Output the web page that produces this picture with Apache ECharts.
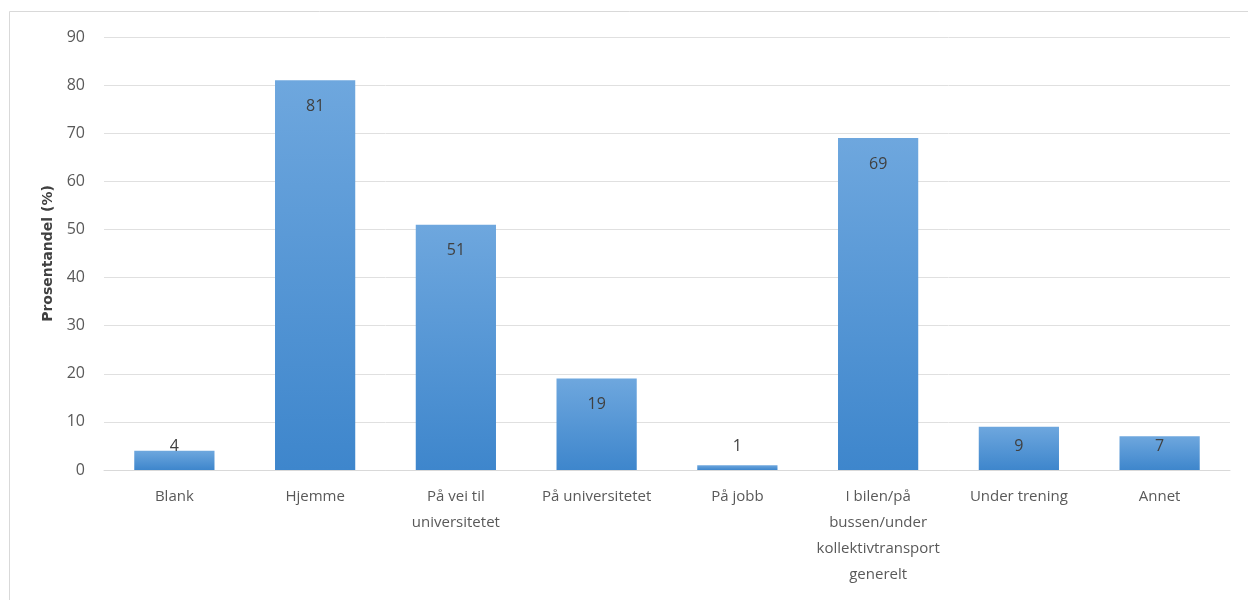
<!DOCTYPE html>
<html>
<head>
<meta charset="utf-8">
<script src="https://cdn.jsdelivr.net/npm/echarts@6/dist/echarts.min.js"></script>
<style>
  html, body { margin: 0; padding: 0; background: #fff; }
  #chart { width: 1248px; height: 600px; }
</style>
</head>
<body>
<div id="chart"></div>
<script>
var kategorier = ['Blank', 'Hjemme', 'På vei til\nuniversitetet', 'På universitetet', 'På jobb',
    'I bilen/på\nbussen/under\nkollektivtransport\ngenerelt', 'Under trening', 'Annet'];
var andeler = [4, 81, 51, 19, 1, 69, 9, 7];
var yTicks = [0, 10, 20, 30, 40, 50, 60, 70, 80, 90];

var chart = echarts.init(document.getElementById('chart'));

// Excel keeps the label inside the top, but never lower than a fixed spot above the axis
var pxPerUnit = 433 / 90;
var barData = andeler.map(function (v) {
    var d = Math.min(26, (v - 4.8) * pxPerUnit); // label centre below bar top
    if (d >= 26) return v;
    if (d >= 8) return { value: v, label: { position: 'insideTop', distance: d - 8 } };
    return { value: v, label: { position: 'top', distance: -d - 8 } };
});

var option = {
    animation: false,
    textStyle: { fontFamily: '"Open Sans", sans-serif' },
    graphic: [{
        type: 'rect',
        shape: { x: 9.5, y: 11.5, width: 1300, height: 700 },
        style: { fill: 'none', stroke: '#d9d9d9', lineWidth: 1 },
        silent: true
    }],
    grid: { left: 104, right: 18, top: 37, bottom: 130 },
    xAxis: {
        type: 'category',
        data: kategorier,
        axisLine: { lineStyle: { color: '#d9d9d9' } },
        axisTick: { show: false },
        axisLabel: { color: '#595959', fontSize: 15, lineHeight: 26, margin: 14, interval: 0 }
    },
    yAxis: {
        type: 'value',
        min: yTicks[0],
        max: yTicks[yTicks.length - 1],
        interval: 10,
        name: 'Prosentandel (%)',
        nameLocation: 'middle',
        nameGap: 42,
        nameRotate: 90,
        nameTextStyle: { color: '#404040', fontSize: 14, fontWeight: 'bold', fontFamily: '"DejaVu Sans"' },
        axisLine: { show: false },
        axisTick: { show: false },
        axisLabel: { color: '#595959', fontSize: 16, margin: 19 },
        splitLine: { lineStyle: { color: '#e0e0e0', width: 1 } }
    },
    series: [{
        type: 'bar',
        data: barData,
        barCategoryGap: '43%',
        itemStyle: {
            color: new echarts.graphic.LinearGradient(0, 0, 0, 1, [
                { offset: 0, color: '#6ea7de' },
                { offset: 1, color: '#3e86cc' }
            ])
        },
        label: {
            show: true,
            position: 'insideTop',
            distance: 18,
            color: '#404040',
            fontSize: 16
        }
    }]
};

chart.setOption(option);
</script>
</body>
</html>
